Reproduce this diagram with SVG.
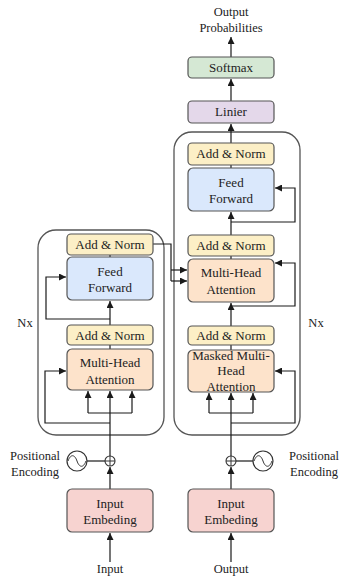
<svg xmlns="http://www.w3.org/2000/svg" width="339" height="578" viewBox="0 0 339 578">
<defs>
<marker id="arr" markerUnits="userSpaceOnUse" markerWidth="8" markerHeight="7" refX="7" refY="3.5" orient="auto">
<path d="M0,0 L7,3.5 L0,7 z" fill="#1a1a1a"/>
</marker>
<style>
text{font-family:"Liberation Serif","Times New Roman",serif;font-size:13px;fill:#222;text-anchor:middle}
.lbl{font-size:12.5px}
.node{stroke:#555;stroke-width:1.2}
.an{fill:#fcefc6}
.ff{fill:#dae8fc}
.mha{fill:#fde3cb}
.emb{fill:#f7d3d0}
.sm{fill:#d5e8d4}
.lin{fill:#e4d8ea}
.frame{fill:none;stroke:#555;stroke-width:1.3}
.c{fill:none;stroke:#1a1a1a;stroke-width:1.2}
.ca{fill:none;stroke:#1a1a1a;stroke-width:1.2;marker-end:url(#arr)}
</style>
</defs>
<rect fill="#fff" width="339" height="578"/>

<g id="frames">
<rect class="frame" x="38" y="230" width="126" height="205" rx="18"/>
<rect class="frame" x="174" y="132" width="126" height="303" rx="18"/>
</g>

<g id="connectors">
<!-- encoder -->
<line class="ca" x1="110" y1="562" x2="110" y2="533"/>
<line class="ca" x1="110" y1="489" x2="110" y2="467"/>
<line class="ca" x1="110" y1="456" x2="110" y2="391"/>
<polyline class="c" points="88,413 132,413"/>
<line class="ca" x1="88" y1="413" x2="88" y2="391"/>
<line class="ca" x1="132" y1="413" x2="132" y2="391"/>
<polyline class="ca" points="110,423 45,423 45,371 66,371"/>
<line class="c" x1="110" y1="349" x2="110" y2="345"/>
<line class="ca" x1="110" y1="325" x2="110" y2="301"/>
<polyline class="ca" points="110,319 46,319 46,277 66,277"/>
<line class="c" x1="110" y1="257" x2="110" y2="255"/>
<polyline class="c" points="153,244 171,244 171,281"/>
<line class="ca" x1="171" y1="270" x2="187" y2="270"/>
<line class="ca" x1="171" y1="281" x2="187" y2="281"/>
<line class="c" x1="87" y1="461" x2="105" y2="461"/>
<!-- decoder -->
<line class="ca" x1="231" y1="562" x2="231" y2="533"/>
<line class="ca" x1="231" y1="489" x2="231" y2="467"/>
<line class="ca" x1="231" y1="456" x2="231" y2="393"/>
<polyline class="c" points="209,413 253,413"/>
<line class="ca" x1="209" y1="413" x2="209" y2="393"/>
<line class="ca" x1="253" y1="413" x2="253" y2="393"/>
<polyline class="ca" points="231,423 295,423 295,371 275,371"/>
<line class="c" x1="231" y1="350" x2="231" y2="345"/>
<line class="ca" x1="231" y1="326" x2="231" y2="303"/>
<polyline class="ca" points="231,306 295,306 295,263 275,263"/>
<line class="c" x1="231" y1="259" x2="231" y2="256"/>
<line class="ca" x1="231" y1="235" x2="231" y2="212"/>
<polyline class="ca" points="231,222 295,222 295,188 275,188"/>
<line class="c" x1="231" y1="168" x2="231" y2="165"/>
<line class="ca" x1="231" y1="143" x2="231" y2="124"/>
<line class="ca" x1="231" y1="101" x2="231" y2="79"/>
<line class="ca" x1="231" y1="57" x2="231" y2="37"/>
<line class="c" x1="236" y1="461" x2="253" y2="461"/>
</g>

<g id="enc-addnorm2"><rect class="node an" x="67" y="234" width="86" height="21" rx="4"/><text x="110" y="249">Add &amp; Norm</text></g>
<g id="enc-ff"><rect class="node ff" x="67" y="257" width="86" height="43" rx="5"/><text x="110" y="276">Feed</text><text x="110" y="292">Forward</text></g>
<g id="enc-addnorm1"><rect class="node an" x="67" y="325" width="86" height="20" rx="4"/><text x="110" y="340">Add &amp; Norm</text></g>
<g id="enc-mha"><rect class="node mha" x="67" y="349" width="86" height="41" rx="5"/><text x="110" y="367">Multi-Head</text><text x="110" y="384">Attention</text></g>
<g id="enc-emb"><rect class="node emb" x="67" y="489" width="86" height="43" rx="5"/><text x="110" y="508">Input</text><text x="110" y="524">Embeding</text></g>

<g id="enc-pos"><circle cx="77" cy="461" r="10" fill="#fff" stroke="#333" stroke-width="1.2"/><path d="M68,461 C71,453 75,455 77,461 C79,467 83,469 86,461" fill="none" stroke="#333" stroke-width="1"/></g>
<g id="enc-plus"><circle cx="110" cy="461" r="5" fill="#fff" stroke="#333" stroke-width="1.1"/><path d="M105,461 H115 M110,456 V466" stroke="#333" stroke-width="1"/></g>
<g id="enc-poslabel"><text class="lbl" x="35" y="460">Positional</text><text class="lbl" x="35" y="476">Encoding</text></g>
<g id="enc-nx"><text class="lbl" x="25" y="327">Nx</text></g>
<g id="input-label"><text class="lbl" x="110" y="573" font-size="12">Input</text></g>

<g id="dec-addnorm3"><rect class="node an" x="188" y="143" width="86" height="22" rx="4"/><text x="231" y="158">Add &amp; Norm</text></g>
<g id="dec-ff"><rect class="node ff" x="188" y="168" width="86" height="43" rx="5"/><text x="231" y="187">Feed</text><text x="231" y="203">Forward</text></g>
<g id="dec-addnorm2"><rect class="node an" x="188" y="235" width="86" height="21" rx="4"/><text x="231" y="250">Add &amp; Norm</text></g>
<g id="dec-mha"><rect class="node mha" x="188" y="259" width="86" height="43" rx="5"/><text x="231" y="277">Multi-Head</text><text x="231" y="294">Attention</text></g>
<g id="dec-addnorm1"><rect class="node an" x="188" y="326" width="86" height="19" rx="4"/><text x="231" y="340">Add &amp; Norm</text></g>
<g id="dec-mmha"><rect class="node mha" x="188" y="350" width="86" height="42" rx="5"/><text x="231" y="360">Masked Multi-</text><text x="231" y="375">Head</text><text x="231" y="391">Attention</text></g>
<g id="dec-emb"><rect class="node emb" x="188" y="489" width="86" height="43" rx="5"/><text x="231" y="508">Input</text><text x="231" y="524">Embeding</text></g>
<g id="linier"><rect class="node lin" x="188" y="101" width="86" height="22" rx="4"/><text x="231" y="116">Linier</text></g>
<g id="softmax"><rect class="node sm" x="188" y="57" width="86" height="21" rx="4"/><text x="231" y="72">Softmax</text></g>

<g id="dec-pos"><circle cx="263" cy="461" r="10" fill="#fff" stroke="#333" stroke-width="1.2"/><path d="M254,461 C257,453 261,455 263,461 C265,467 269,469 272,461" fill="none" stroke="#333" stroke-width="1"/></g>
<g id="dec-plus"><circle cx="231" cy="461" r="5" fill="#fff" stroke="#333" stroke-width="1.1"/><path d="M226,461 H236 M231,456 V466" stroke="#333" stroke-width="1"/></g>
<g id="dec-poslabel"><text class="lbl" x="314" y="460">Positional</text><text class="lbl" x="314" y="476">Encoding</text></g>
<g id="dec-nx"><text class="lbl" x="316" y="327">Nx</text></g>
<g id="output-label"><text class="lbl" x="231" y="573" font-size="12">Output</text></g>
<g id="out-prob"><text class="lbl" x="231" y="16">Output</text><text class="lbl" x="231" y="32">Probabilities</text></g>
</svg>
